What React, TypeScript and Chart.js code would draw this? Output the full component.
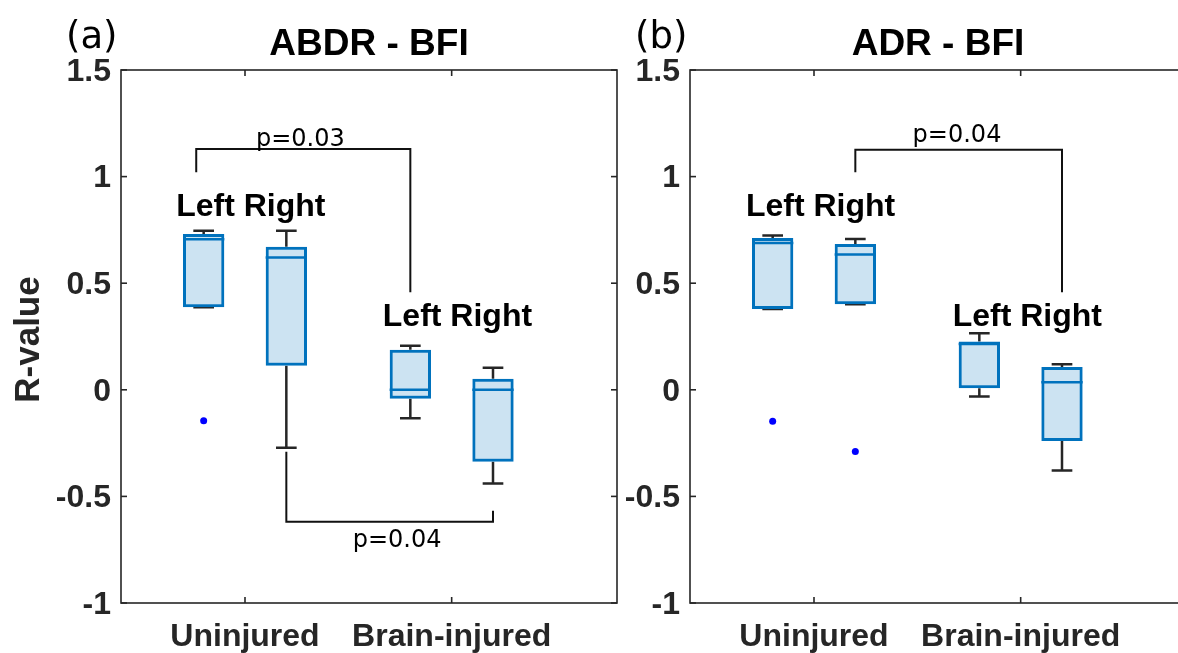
import React, { useEffect, useRef } from 'react';
import { Chart, registerables } from 'chart.js';

Chart.register(...registerables);

// ---------- shared labels / positions ----------
const groupLabels = ['Uninjured', 'Brain-injured'];
const groupTickPos = [1.5, 4];
const boxPositions = [1, 2, 3.5, 4.5];
const sideLabel = 'Left Right';
const yTickValues = [-1, -0.5, 0, 0.5, 1, 1.5];
const yTickLabels = ['-1', '-0.5', '0', '0.5', '1', '1.5'];

// ---------- panel (a) ABDR - BFI ----------
const abdrMin = [0.387, -0.272, -0.134, -0.44];
const abdrQ1 = [0.387, 0.113, -0.042, -0.337];
const abdrMedian = [0.706, 0.62, 0.0, 0.0];
const abdrQ3 = [0.731, 0.671, 0.188, 0.052];
const abdrMax = [0.746, 0.746, 0.207, 0.104];
const abdrOutliers = [[-0.145], [], [], []];
const abdrSideX = [1.57, 4.07];
const abdrSideY = [0.815, 0.299];
const abdrBracketX = [[0.91, 0.91, 3.5, 3.5], [2, 2, 4.5, 4.5]];
const abdrBracketY = [[1.02, 1.13, 1.13, 0.457], [-0.29, -0.619, -0.619, -0.567]];
const abdrPText = ['p=0.03', 'p=0.04'];
const abdrPX = [2.17, 3.34];
const abdrPY = [1.145, -0.736];

// ---------- panel (b) ADR - BFI ----------
const adrMin = [0.379, 0.401, -0.032, -0.378];
const adrQ1 = [0.379, 0.401, 0.007, -0.24];
const adrMedian = [0.688, 0.635, 0.215, 0.035];
const adrQ3 = [0.712, 0.684, 0.227, 0.107];
const adrMax = [0.724, 0.707, 0.265, 0.12];
const adrOutliers = [[-0.148], [-0.289], [], []];
const adrSideX = [1.58, 4.08];
const adrSideY = [0.815, 0.299];
const adrBracketX = [[2, 2, 4.5, 4.5]];
const adrBracketY = [[1.02, 1.126, 1.126, 0.457]];
const adrPText = ['p=0.04'];
const adrPX = [3.23];
const adrPY = [1.164];

// ---------- styles ----------
const BOX_BLUE = '#0072BD';
const BOX_FILL = 'rgba(0,114,189,0.2)';
const WHISKER = '#262626';
const AXIS = '#262626';
const SANS = '"Liberation Sans", Arial, Helvetica, sans-serif';
const BOX_HALF = 0.25;
const CAP_HALF = 0.125;

type PanelCfg = {
  tag: string;
  title: string;
  min: number[]; q1: number[]; med: number[]; q3: number[]; max: number[];
  outliers: number[][];
  sideX: number[]; sideY: number[];
  bracketX: number[][]; bracketY: number[][];
  pText: string[]; pX: number[]; pY: number[];
  yLabel?: string;
  left: number; width: number; yAxisWidth: number; padRight: number;
};

function buildDatasets(c: PanelCfg) {
  const whisk: any[] = [];
  const med: any[] = [];
  const out: any[] = [];
  boxPositions.forEach((p, i) => {
    whisk.push(
      { x: p, y: c.q3[i] }, { x: p, y: c.max[i] }, { x: p, y: null },
      { x: p - CAP_HALF, y: c.max[i] }, { x: p + CAP_HALF, y: c.max[i] }, { x: p, y: null },
      { x: p, y: c.q1[i] }, { x: p, y: c.min[i] }, { x: p, y: null },
      { x: p - CAP_HALF, y: c.min[i] }, { x: p + CAP_HALF, y: c.min[i] }, { x: p, y: null },
    );
    med.push({ x: p - BOX_HALF, y: c.med[i] }, { x: p + BOX_HALF, y: c.med[i] }, { x: p, y: null });
    c.outliers[i].forEach((v) => out.push({ x: p, y: v }));
  });
  const datasets: any[] = [
    {
      type: 'line', data: whisk, borderColor: WHISKER, borderWidth: 2.5,
      pointRadius: 0, spanGaps: false, tension: 0, order: 4, borderCapStyle: 'butt',
    },
    {
      type: 'bar',
      data: boxPositions.map((p, i) => ({ x: p, y: [c.q1[i], c.q3[i]] })),
      backgroundColor: BOX_FILL, borderColor: BOX_BLUE, borderWidth: 3,
      borderSkipped: false, categoryPercentage: 1, barPercentage: 0.5, order: 3,
    },
    {
      type: 'line', data: med, borderColor: BOX_BLUE, borderWidth: 2.5,
      pointRadius: 0, spanGaps: false, tension: 0, order: 2,
    },
    {
      type: 'scatter', data: out, backgroundColor: '#0000FF', borderColor: '#0000FF',
      pointRadius: 3.5, pointBorderWidth: 0, order: 1,
    },
  ];
  c.bracketX.forEach((xs, k) => {
    datasets.push({
      type: 'line', data: xs.map((xv, j) => ({ x: xv, y: c.bracketY[k][j] })),
      borderColor: '#111111', borderWidth: 2, pointRadius: 0, tension: 0, order: 0,
    });
  });
  return datasets;
}

function overlayPlugin(c: PanelCfg) {
  return {
    id: 'overlay_' + c.tag,
    afterDraw(chart: any) {
      const { ctx, chartArea: a, scales } = chart;
      const x = scales.x;
      const y = scales.y;
      ctx.save();
      // frame
      ctx.strokeStyle = AXIS;
      ctx.lineWidth = 1.6;
      ctx.strokeRect(a.left, a.top, a.right - a.left, a.bottom - a.top);
      // inner ticks
      const seg = (x1: number, y1: number, x2: number, y2: number) => {
        ctx.beginPath(); ctx.moveTo(x1, y1); ctx.lineTo(x2, y2); ctx.stroke();
      };
      groupTickPos.forEach((v) => {
        const px = x.getPixelForValue(v);
        seg(px, a.bottom, px, a.bottom - 6);
        seg(px, a.top, px, a.top + 6);
      });
      yTickValues.forEach((v) => {
        const py = y.getPixelForValue(v);
        seg(a.left, py, a.left + 6, py);
        seg(a.right, py, a.right - 6, py);
      });
      // title
      ctx.fillStyle = '#000';
      ctx.textAlign = 'center';
      ctx.textBaseline = 'alphabetic';
      ctx.font = `bold 37px ${SANS}`;
      ctx.fillText(c.title, (a.left + a.right) / 2, 55);
      // panel tag
      ctx.textAlign = 'left';
      ctx.font = '37px "DejaVu Sans", sans-serif';
      ctx.fillText(c.tag, a.left - 55, 48);
      // Left / Right labels
      ctx.textAlign = 'center';
      ctx.font = `bold 32px ${SANS}`;
      c.sideX.forEach((sx, i) => {
        ctx.fillText(sideLabel, x.getPixelForValue(sx), y.getPixelForValue(c.sideY[i]));
      });
      // p values
      ctx.font = '24px "DejaVu Sans", sans-serif';
      c.pText.forEach((t, i) => {
        ctx.fillText(t, x.getPixelForValue(c.pX[i]), y.getPixelForValue(c.pY[i]));
      });
      // y label
      if (c.yLabel) {
        ctx.save();
        ctx.translate(29, (a.top + a.bottom) / 2 + 3);
        ctx.rotate(-Math.PI / 2);
        ctx.textBaseline = 'middle';
        ctx.fillStyle = '#262626';
        ctx.font = `bold 35px ${SANS}`;
        ctx.fillText(c.yLabel, 0, 0);
        ctx.restore();
      }
      ctx.restore();
    },
  };
}

function Panel({ cfg }: { cfg: PanelCfg }) {
  const ref = useRef<HTMLCanvasElement | null>(null);
  useEffect(() => {
    if (!ref.current) return;
    const chart = new Chart(ref.current, {
      type: 'bar',
      data: { datasets: buildDatasets(cfg) },
      options: {
        animation: false,
        responsive: false,
        devicePixelRatio: 1,
        events: [],
        layout: { padding: { top: 70, right: cfg.padRight, bottom: 0, left: 0 } },
        plugins: { legend: { display: false }, tooltip: { enabled: false }, title: { display: false } },
        scales: {
          x: {
            type: 'linear', min: 0, max: 6, offset: false,
            grid: { display: false }, border: { display: false },
            afterBuildTicks: (s: any) => { s.ticks = groupTickPos.map((v) => ({ value: v })); },
            afterFit: (s: any) => { s.height = 50; },
            ticks: {
              autoSkip: false, maxRotation: 0, minRotation: 0, padding: 7, color: '#262626',
              font: { family: SANS, size: 32, weight: 'bold' },
              callback: (_v: any, i: number) => groupLabels[i],
            },
          },
          y: {
            type: 'linear', min: -1, max: 1.5,
            grid: { display: false, drawTicks: false }, border: { display: false },
            afterBuildTicks: (s: any) => { s.ticks = yTickValues.map((v) => ({ value: v })); },
            afterFit: (s: any) => { s.width = cfg.yAxisWidth; },
            ticks: {
              padding: 10, color: '#262626', labelOffset: 2,
              font: { family: SANS, size: 32, weight: 'bold' },
              callback: (_v: any, i: number) => yTickLabels[i],
            },
          },
        },
      } as any,
      plugins: [overlayPlugin(cfg)],
    });
    return () => chart.destroy();
  }, [cfg]);
  return (
    <canvas
      ref={ref}
      width={cfg.width}
      height={653}
      style={{ position: 'absolute', left: cfg.left, top: 0, width: cfg.width, height: 653 }}
    />
  );
}

const panelA: PanelCfg = {
  tag: '(a)', title: 'ABDR - BFI',
  min: abdrMin, q1: abdrQ1, med: abdrMedian, q3: abdrQ3, max: abdrMax, outliers: abdrOutliers,
  sideX: abdrSideX, sideY: abdrSideY, bracketX: abdrBracketX, bracketY: abdrBracketY,
  pText: abdrPText, pX: abdrPX, pY: abdrPY, yLabel: 'R-value',
  left: 0, width: 625, yAxisWidth: 121, padRight: 8,
};

const panelB: PanelCfg = {
  tag: '(b)', title: 'ADR - BFI',
  min: adrMin, q1: adrQ1, med: adrMedian, q3: adrQ3, max: adrMax, outliers: adrOutliers,
  sideX: adrSideX, sideY: adrSideY, bracketX: adrBracketX, bracketY: adrBracketY,
  pText: adrPText, pX: adrPX, pY: adrPY,
  left: 620, width: 580, yAxisWidth: 70, padRight: 14,
};

export default function App() {
  return (
    <div style={{ position: 'fixed', left: 0, top: 0, width: 1178, height: 653, overflow: 'hidden', background: '#fff' }}>
      <Panel cfg={panelA} />
      <Panel cfg={panelB} />
    </div>
  );
}
